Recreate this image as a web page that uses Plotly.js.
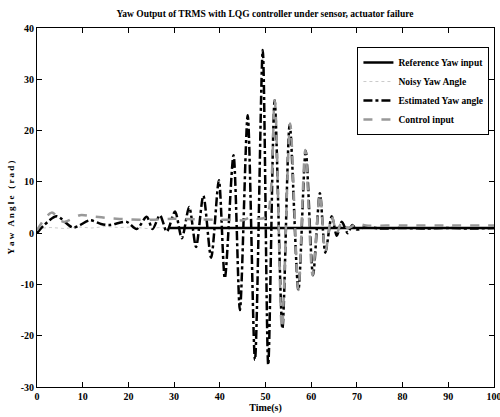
<!DOCTYPE html>
<html>
<head>
<meta charset="utf-8">
<script src="https://cdn.plot.ly/plotly-3.0.1.min.js"></script>
<style>html,body{margin:0;padding:0;background:#fff;}#chart{width:500px;height:417px;}</style>
</head>
<body>
<div id="chart"></div>
<script>
// Reference yaw input
var refT = [29, 100];
var refY = [1, 1];

// Noisy yaw angle (thin dotted)
var noisyT = [0, 3, 6, 9, 12, 15, 18, 21, 24, 27, 29];
var noisyY = [0.9, 1.1, 0.9, 1.2, 1.0, 1.3, 1.1, 1.2, 0.9, 1.1, 1.0];

// Estimated yaw angle (black dash-dot)
var estT = [0, 1.5, 4.3, 7.9, 11.6, 14, 16, 19.6, 21.8, 24, 25.3, 26.9, 28.4, 30.2, 31.7, 33.3, 34.8, 36.4, 38.1, 39.8, 41.1, 43.0, 44.4, 46.1, 47.7, 49.4, 50.6, 52.0, 53.7, 55.3, 57.2, 58.8, 60.4, 61.9, 63.1, 64.5, 65.6, 66.7, 68, 69, 70, 72, 75, 80, 85, 90, 95, 100];
var estY = [0, 1.5, 3.3, 1.1, 2.5, 1.8, 1.6, 2.2, 0.8, 3.2, 0.8, 3.5, 0.3, 4.2, -1, 5.1, -2.7, 7.3, -4.8, 10.3, -8.8, 15.2, -15, 23, -24.7, 35.7, -25.7, 25.9, -18.6, 21.2, -11.1, 16, -8.2, 7.8, -3.8, 3.3, -0.5, 2.2, 0, 1.6, 0.7, 1.2, 0.9, 1.0, 0.9, 1.0, 0.9, 1.0];

// Control input (grey dashed)
var ctlT = [0, 3.2, 5.8, 9.4, 12, 16, 20, 25, 30, 35, 40, 43, 45, 47, 48.5, 50.3, 52.0, 53.6, 55.4, 57.2, 58.7, 60.3, 61.9, 63.1, 64.5, 65.6, 66.7, 68, 70, 72, 80, 90, 100];
var ctlY = [0.6, 4.0, 2.2, 3.5, 3.3, 2.9, 2.7, 2.6, 2.8, 2.7, 2.6, 2.6, 2.5, 3.2, 2.8, 3.3, 25.9, -18.6, 21.4, -11.1, 16.2, -8.2, 7.6, -3.6, 3.3, 0, 2.2, 1.0, 1.8, 1.5, 1.5, 1.5, 1.5];

var xTicks = [0, 10, 20, 30, 40, 50, 60, 70, 80, 90, 100];
var yTicks = [-30, -20, -10, 0, 10, 20, 30, 40];

var serif = 'Liberation Serif, Times New Roman, serif';

var traces = [
  {x: refT, y: refY, mode: 'lines', name: '<b>Reference Yaw input</b>',
   line: {color: '#000', width: 2.5}},
  {x: noisyT, y: noisyY, mode: 'lines', name: '<b>Noisy Yaw Angle</b>',
   line: {color: 'rgba(0,0,0,0.3)', width: 0.7, dash: 'dot'}},
  {x: estT, y: estY, mode: 'lines', name: '<b>Estimated Yaw angle</b>',
   line: {color: '#000', width: 2.5, dash: 'dashdot', shape: 'spline', smoothing: 0.8}},
  {x: ctlT, y: ctlY, mode: 'lines', name: '<b>Control input</b>',
   line: {color: '#999', width: 2.5, dash: 'dash', shape: 'spline', smoothing: 0.8}}
];

var layout = {
  width: 500, height: 417,
  margin: {l: 37, r: 6, t: 28, b: 30},
  paper_bgcolor: '#fff', plot_bgcolor: '#fff',
  showlegend: true,
  title: {text: '<b>Yaw Output of TRMS with LQG controller under sensor, actuator failure</b>',
          font: {family: serif, size: 9.5, color: '#000'}, x: 0.53, xanchor: 'center', y: 0.967, yanchor: 'middle'},
  xaxis: {range: [0, 100], tickvals: xTicks, ticktext: xTicks.map(function(v){return '<b>'+v+'</b>';}),
          ticks: 'inside', ticklen: 5, tickcolor: '#000', showline: true, linecolor: '#000', linewidth: 1,
          mirror: 'ticks', showgrid: false, zeroline: false, automargin: false, ticklabeloverflow: 'allow',
          tickfont: {family: serif, size: 10, color: '#000'},
          title: {text: '<b>Time(s)</b>', font: {family: serif, size: 10, color: '#000'}, standoff: 2}},
  yaxis: {range: [-30, 40], tickvals: yTicks, ticktext: yTicks.map(function(v){return '<b>'+v+'</b>';}),
          ticks: 'inside', ticklen: 5, tickcolor: '#000', showline: true, linecolor: '#000', linewidth: 1,
          mirror: 'ticks', showgrid: false, zeroline: false, automargin: false, ticklabeloverflow: 'allow',
          tickfont: {family: serif, size: 10, color: '#000'},
          title: {text: '<b>Y a w   A n g l e   ( r a d )</b>', font: {family: serif, size: 9, color: '#000'}, standoff: 4}},
  legend: {x: 0.99, y: 0.947, xanchor: 'right', yanchor: 'top', bgcolor: '#fff',
           bordercolor: '#000', borderwidth: 1, font: {family: serif, size: 9.5, color: '#000'},
           tracegroupgap: 0, itemwidth: 30}
};

Plotly.newPlot('chart', traces, layout, {displayModeBar: false, staticPlot: true});
</script>
</body>
</html>
